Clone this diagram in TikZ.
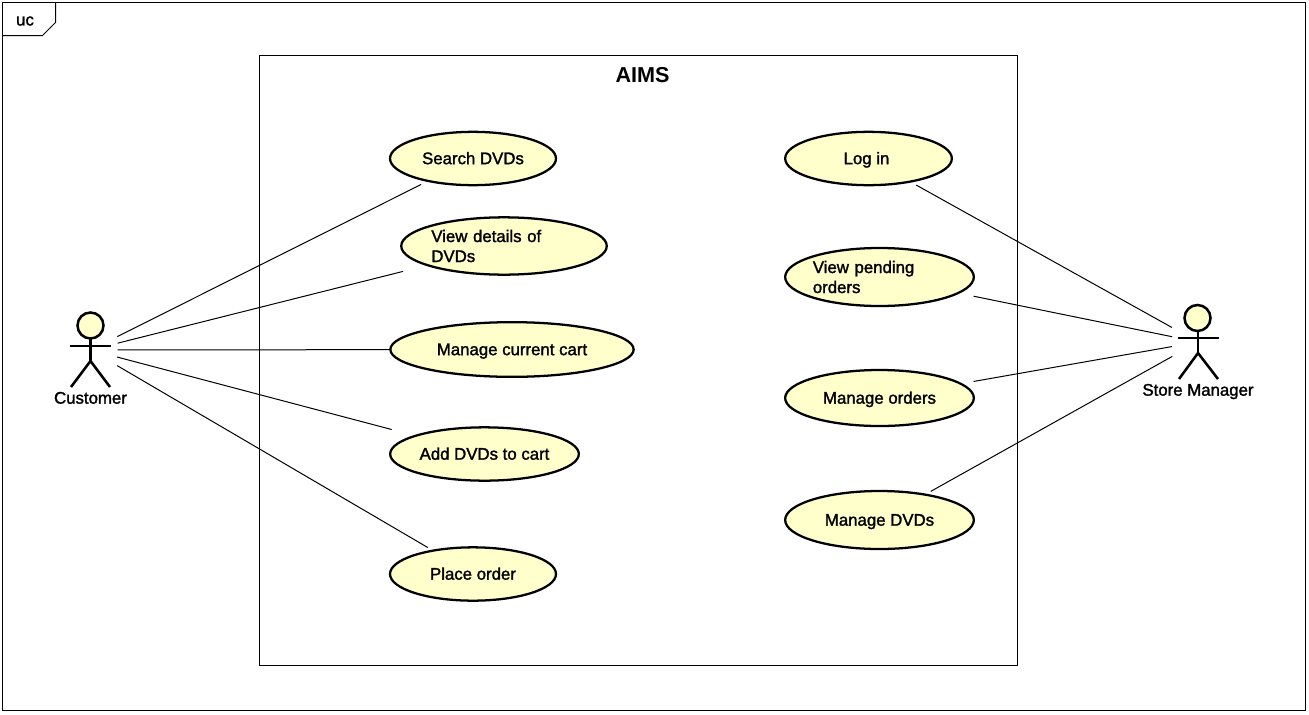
\documentclass[tikz,border=0pt]{standalone}
\usepackage{fontspec}
\setmainfont{Liberation Sans}
\newfontfamily\ucfont[FakeBold=1.6]{Liberation Sans}
\usetikzlibrary{shapes.geometric}
\definecolor{ucfill}{HTML}{FFFFCC}
\tikzset{
  x=0.75pt,y=-0.75pt,
  frameline/.style={draw=black,line width=0.75pt},
  usecase/.style={ellipse,draw=black,fill=ucfill,line width=1.7pt,inner sep=0pt,outer sep=0pt,font=\ucfont\fontsize{12.6}{15}\selectfont},
  oneline/.style={text height=10pt,text depth=1.5pt},
  actorlimb/.style={draw=black,line width=1.9pt},
  actorhead/.style={circle,draw=black,fill=ucfill,line width=1.9pt,minimum size=19.5pt,inner sep=0pt},
  actorname/.style={font=\ucfont\fontsize{12.6}{14}\selectfont,inner sep=0pt,oneline},
  assoc/.style 2 args={draw=black,line width=0.75pt,shorten <=#1*0.75pt,shorten >=#2*0.75pt},
}
\begin{document}
\begin{tikzpicture}
\useasboundingbox (0,0) rectangle (1309,714);
\fill[white] (0,0) rectangle (1309,714);
% frame
\draw[frameline] (2.5,2.5) rectangle (1305.5,710);
\draw[frameline] (2.5,35.5) -- (42.5,35.5) -- (55.5,22.5) -- (55.5,2.5);
\node[font=\ucfont\fontsize{12.6}{14}\selectfont,inner sep=0pt] (uc) at (25,21) {uc};
% system
\draw[frameline] (259.5,55.5) rectangle (1017.5,665.5);
\node[font=\bfseries\fontsize{16.2}{18}\selectfont,inner sep=0pt] (aims) at (642.5,75) {AIMS};
% use cases
\node[usecase,oneline,minimum width=124.5pt,minimum height=40pt] (search) at (473,158.5) {Search DVDs};
\node[usecase,minimum width=151pt,minimum height=43pt,text width=109pt,align=left] (details) at (504,246) {View details of\\DVDs};
\node[usecase,oneline,minimum width=182.5pt,minimum height=41pt] (cart) at (512,349.5) {Manage current cart};
\node[usecase,oneline,minimum width=141.5pt,minimum height=40pt] (add) at (484.5,454) {Add DVDs to cart};
\node[usecase,oneline,minimum width=124.5pt,minimum height=40pt] (place) at (473,574) {Place order};
\node[usecase,oneline,minimum width=125pt,minimum height=40pt] (login) at (868.5,158.5) {Log in\hspace{3pt}\mbox{}};
\node[usecase,minimum width=141.5pt,minimum height=43.5pt,text width=100pt,align=left] (pending) at (879.5,277) {View pending\\orders};
\node[usecase,oneline,minimum width=141.5pt,minimum height=42pt] (orders) at (879.5,398) {Manage orders};
\node[usecase,oneline,minimum width=141.5pt,minimum height=43.5pt] (dvds) at (879.5,520) {Manage DVDs};
% actors
\coordinate (cust) at (90.5,350);
\draw[actorlimb] (70,346) -- (111,346);
\draw[actorlimb] (90.5,325) -- (90.5,361);
\draw[actorlimb] (71,387) -- (90.5,361) -- (110,387);
\node[actorhead] (custhead) at (90.5,325.5) {};
\node[actorname] (custname) at (90.5,398) {Customer};
\coordinate (mgr) at (1198,342);
\draw[actorlimb] (1178,338) -- (1219,338);
\draw[actorlimb] (1198,318) -- (1198,353);
\draw[actorlimb] (1179,379) -- (1198,353) -- (1218,379);
\node[actorhead] (mgrhead) at (1197.5,318) {};
\node[actorname] (mgrname) at (1198,390) {Store Manager};
% associations
\draw[assoc={30}{58}] (cust) -- (search.center);
\draw[assoc={28}{104}] (cust) -- (details.center);
\draw[assoc={27}{123}] (cust) -- (cart.center);
\draw[assoc={27.5}{96}] (cust) -- (add.center);
\draw[assoc={31}{52.5}] (cust) -- (place.center);
\draw[assoc={30}{54.6}] (mgr) -- (login.center);
\draw[assoc={26.5}{96}] (mgr) -- (pending.center);
\draw[assoc={26.5}{95.5}] (mgr) -- (orders.center);
\draw[assoc={29.5}{58.7}] (mgr) -- (dvds.center);
\end{tikzpicture}
\end{document}
